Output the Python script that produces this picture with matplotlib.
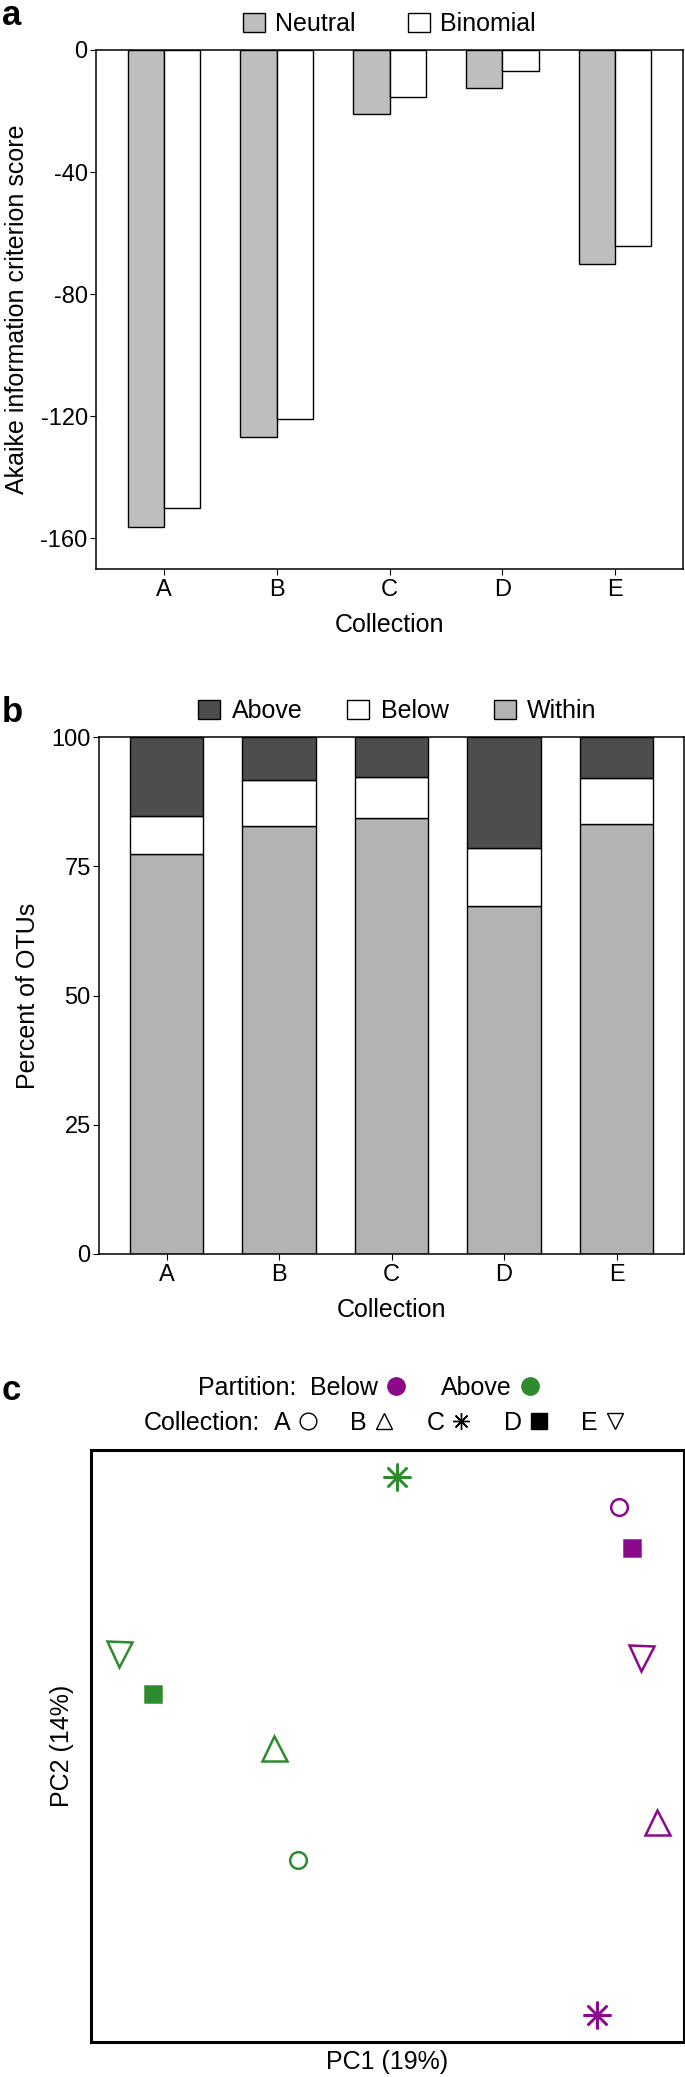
import matplotlib
matplotlib.use('Agg')
import matplotlib.pyplot as plt
from matplotlib.patches import Patch
from matplotlib.lines import Line2D
import numpy as np

plt.rcParams['font.family'] = ['Liberation Sans', 'DejaVu Sans']
plt.rcParams['axes.unicode_minus'] = False

W, H = 685, 2077

collections = ['A', 'B', 'C', 'D', 'E']

# panel a - AIC scores
aic_neutral = [-156.4, -126.8, -20.8, -12.6, -70.2]
aic_binomial = [-150.0, -120.8, -15.5, -6.9, -64.3]

# panel b - percent of OTUs
pct_within = [77.3, 82.8, 84.4, 67.4, 83.2]
pct_below = [7.4, 8.9, 7.8, 11.1, 8.8]
pct_above = [15.3, 8.3, 7.8, 21.5, 8.0]

# panel c - PCoA
pc_partition = ['Above'] * 5 + ['Below'] * 5
pc_collection = collections * 2
pc1 = [0.349, 0.309, 0.516, 0.104, 0.047, 0.891, 0.954, 0.854, 0.912, 0.927]
pc2 = [0.307, 0.496, 0.955, 0.588, 0.655, 0.903, 0.371, 0.045, 0.834, 0.648]

part_colors = {'Below': '#8b0a8b', 'Above': '#2e8b2e'}
coll_markers = {'A': 'o', 'B': '^', 'C': (8, 2, 0), 'D': 's', 'E': 'v'}
coll_sizes = {'A': 12, 'B': 18, 'C': 20, 'D': 12, 'E': 18}


def box(left, top, right, bottom):
    return [left / W, 1 - bottom / H, (right - left) / W, (bottom - top) / H]


fig = plt.figure(figsize=(W / 100, H / 100), dpi=100)
x = np.arange(len(collections))
fs = 18
tfs = 17

# ---- a
ax = fig.add_axes(box(96, 50, 683, 569))
ax.bar(x - 0.16, aic_neutral, 0.32, color='#bebebe', edgecolor='black', lw=1)
ax.bar(x + 0.16, aic_binomial, 0.32, color='white', edgecolor='black', lw=1)
ax.set_xlim(-0.6, 4.6)
ax.set_ylim(-170, 0)
ax.set_yticks([0, -40, -80, -120, -160])
ax.set_xticks(x)
ax.set_xticklabels(collections)
ax.tick_params(labelsize=tfs, length=4)
ax.tick_params(axis='y', pad=2)
ax.set_xlabel('Collection', fontsize=fs, labelpad=8)
ax.set_ylabel('Akaike information criterion score', fontsize=fs, labelpad=8)
for s in ax.spines.values():
    s.set_linewidth(1.1)
h = [Patch(facecolor='#bebebe', edgecolor='black'), Patch(facecolor='white', edgecolor='black')]
ax.legend(h, ['Neutral', 'Binomial'], loc='center', bbox_to_anchor=(0.5, 1.05), ncol=2,
          frameon=False, fontsize=fs, handlelength=0.88, handleheight=0.8,
          handletextpad=0.4, columnspacing=2.1, borderpad=0, borderaxespad=0)
fig.text(2 / W, 1 - 25 / H, 'a', fontsize=25, fontweight='bold', va='baseline')

# ---- b
ax = fig.add_axes(box(99, 737, 684, 1254))
bot2 = np.array(pct_within) + np.array(pct_below)
ax.bar(x, pct_within, 0.65, color='#b3b3b3', edgecolor='black', lw=1)
ax.bar(x, pct_below, 0.65, bottom=pct_within, color='white', edgecolor='black', lw=1)
ax.bar(x, pct_above, 0.65, bottom=bot2, color='#4d4d4d', edgecolor='black', lw=1)
ax.set_xlim(-0.6, 4.6)
ax.set_ylim(0, 100)
ax.set_yticks([0, 25, 50, 75, 100])
ax.set_xticks(x)
ax.set_xticklabels(collections)
ax.tick_params(labelsize=tfs, length=4)
ax.tick_params(axis='y', pad=2)
ax.set_xlabel('Collection', fontsize=fs, labelpad=8)
ax.set_ylabel('Percent of OTUs', fontsize=fs, labelpad=8)
for s in ax.spines.values():
    s.set_linewidth(1.1)
h = [Patch(facecolor='#4d4d4d', edgecolor='black'), Patch(facecolor='white', edgecolor='black'),
     Patch(facecolor='#b3b3b3', edgecolor='black')]
ax.legend(h, ['Above', 'Below', 'Within'], loc='center', bbox_to_anchor=(0.51, 1.05), ncol=3,
          frameon=False, fontsize=fs, handlelength=0.88, handleheight=0.8,
          handletextpad=0.45, columnspacing=1.8, borderpad=0, borderaxespad=0)
fig.text(2 / W, 1 - 722 / H, 'b', fontsize=25, fontweight='bold', va='baseline')

# ---- c
ax = fig.add_axes(box(91, 1450, 684, 2042))
for p1, p2, part, coll in zip(pc1, pc2, pc_partition, pc_collection):
    c = part_colors[part]
    filled = coll == 'D'
    ax.plot(p1, p2, linestyle='none', marker=coll_markers[coll], ms=coll_sizes[coll],
            markeredgecolor=c, markerfacecolor=c if filled else 'none', markeredgewidth=1.8)
ax.set_xlim(0, 1)
ax.set_ylim(0, 1)
ax.set_xticks([])
ax.set_yticks([])
for s in ax.spines.values():
    s.set_linewidth(2.2)
ax.set_xlabel('PC1 (19%)', fontsize=fs, labelpad=6)
ax.set_ylabel('PC2 (14%)', fontsize=fs, labelpad=12)
fig.text(2 / W, 1 - 1400 / H, 'c', fontsize=25, fontweight='bold', va='baseline')

fig.text(198 / W, 1 - 1388 / H, 'Partition:', fontsize=fs, va='center')
ph = [Line2D([], [], ls='none', marker='o', ms=12.5, color=part_colors[k]) for k in ['Below', 'Above']]
fig.legend(ph, ['Below', 'Above'], loc='center left', bbox_to_anchor=(310 / W, 1 - 1388 / H),
           ncol=2, frameon=False, fontsize=fs, markerfirst=False, handlelength=0.8,
           handletextpad=0.32, columnspacing=1.4, borderpad=0, borderaxespad=0)

fig.text(144 / W, 1 - 1423 / H, 'Collection:', fontsize=fs, va='center')
ch = []
for k in collections:
    ch.append(Line2D([], [], ls='none', marker=coll_markers[k], ms=12, color='black',
                     markerfacecolor='black' if k == 'D' else 'none', markeredgewidth=1.0))
fig.legend(ch, collections, loc='center left', bbox_to_anchor=(274 / W, 1 - 1423 / H),
           ncol=5, frameon=False, fontsize=fs, markerfirst=False, handlelength=0.8,
           handletextpad=0.28, columnspacing=1.3, borderpad=0, borderaxespad=0)

fig.savefig('out.png', dpi=100)
